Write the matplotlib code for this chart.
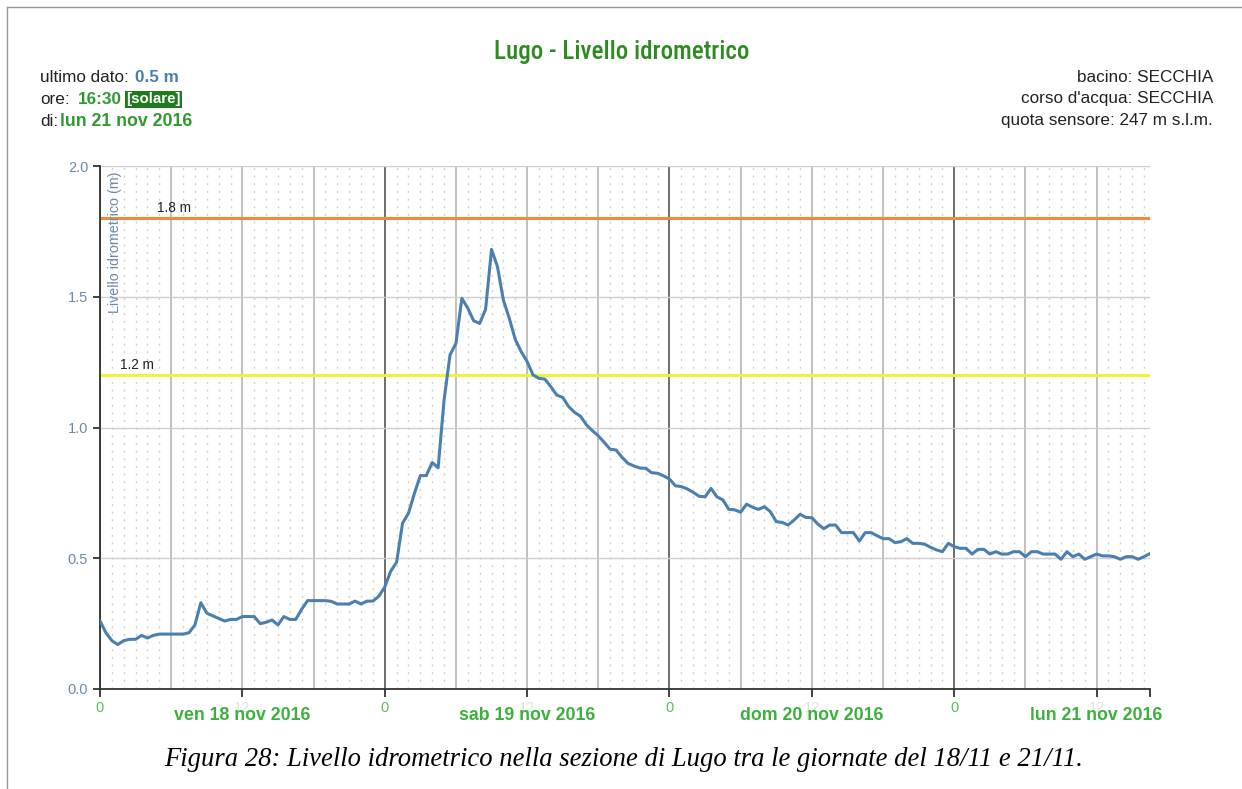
import matplotlib
matplotlib.use("Agg")
import matplotlib.pyplot as plt
import matplotlib.transforms as mtransforms
import pandas as pd

plt.rcParams["font.family"] = ["Liberation Sans", "DejaVu Sans"]

# livello idrometrico Lugo (m), un dato ogni 30 minuti dal 18/11/2016 00:00
level = [
    0.26, 0.215, 0.185, 0.17, 0.185, 0.19, 0.19, 0.205, 0.195, 0.205,
    0.21, 0.21, 0.21, 0.21, 0.21, 0.215, 0.245, 0.33, 0.29, 0.28,
    0.27, 0.26, 0.266, 0.266, 0.277, 0.277, 0.277, 0.25, 0.255, 0.264,
    0.245, 0.277, 0.266, 0.266, 0.305, 0.338, 0.338, 0.338, 0.338, 0.335,
    0.325, 0.325, 0.325, 0.336, 0.325, 0.336, 0.336, 0.355, 0.39, 0.45,
    0.485, 0.634, 0.672, 0.748, 0.816, 0.816, 0.866, 0.846, 1.105, 1.277,
    1.322, 1.494, 1.456, 1.408, 1.398, 1.452, 1.681, 1.615, 1.487, 1.417,
    1.337, 1.29, 1.252, 1.201, 1.188, 1.185, 1.156, 1.124, 1.115, 1.08,
    1.058, 1.043, 1.01, 0.988, 0.968, 0.943, 0.917, 0.914, 0.886, 0.863,
    0.853, 0.845, 0.844, 0.827, 0.825, 0.815, 0.803, 0.777, 0.774, 0.765,
    0.752, 0.737, 0.735, 0.767, 0.735, 0.723, 0.687, 0.685, 0.676, 0.707,
    0.695, 0.687, 0.697, 0.678, 0.64, 0.637, 0.627, 0.646, 0.668, 0.656,
    0.655, 0.631, 0.613, 0.627, 0.627, 0.598, 0.598, 0.598, 0.566, 0.598,
    0.598, 0.586, 0.575, 0.575, 0.56, 0.563, 0.575, 0.557, 0.557, 0.554,
    0.542, 0.532, 0.525, 0.557, 0.544, 0.538, 0.538, 0.516, 0.534, 0.534,
    0.516, 0.525, 0.516, 0.516, 0.525, 0.525, 0.506, 0.525, 0.525, 0.516,
    0.516, 0.516, 0.496, 0.525, 0.506, 0.516, 0.496, 0.506, 0.516, 0.509,
    0.509, 0.506, 0.496, 0.506, 0.506, 0.496, 0.506, 0.518,
]
start = "2016-11-18 00:00"
end = "2016-11-21 16:30"
thresholds = [1.8, 1.2]
threshold_labels = ["1.8 m", "1.2 m"]
threshold_colors = ["#f08a3c", "#f2f23a"]
day_labels = ["ven 18 nov 2016", "sab 19 nov 2016", "dom 20 nov 2016", "lun 21 nov 2016"]

times = pd.date_range(start, periods=len(level), freq="30min")

W, H = 1242, 789
fig = plt.figure(figsize=(W / 100, H / 100), dpi=100)
fig.patch.set_facecolor("white")

def px(x, y):
    return x / W, 1 - y / H

ax = fig.add_axes([100 / W, 1 - 689 / H, 1050 / W, 523 / H])
ax.set_xlim(pd.Timestamp(start), pd.Timestamp(end))
ax.set_ylim(0, 2.0)

green = "#2f9a2f"
blue = "#4a7fb0"
axisblue = "#6f8aa6"

# griglia
for t in pd.date_range(start, end, freq="1h"):
    if t.hour % 6 == 0:
        c = "#555555" if t.hour == 0 else "#b5b5b5"
        ax.axvline(t, color=c, lw=1.2, zorder=1)
    else:
        ax.axvline(t, color="#d0d0d0", lw=1.0, ls=(0, (1.5, 4)), zorder=1)
for yv in [0.5, 1.0, 1.5, 2.0]:
    ax.axhline(yv, color="#cfcfcf", lw=1.0, zorder=1)

# soglie
for yv, lab, col in zip(thresholds, threshold_labels, threshold_colors):
    ax.axhline(yv, color=col, lw=2.2, zorder=2)
tr = mtransforms.blended_transform_factory(ax.transAxes, ax.transData)
ax.text(57 / 1050, thresholds[0] + 0.012, threshold_labels[0], transform=tr,
        fontsize=9.8, color="#222222", va="bottom")
ax.text(20 / 1050, thresholds[1] + 0.012, threshold_labels[1], transform=tr,
        fontsize=9.8, color="#222222", va="bottom")

ax.plot(times, level, color=blue, lw=2.2, zorder=3, solid_joinstyle="round")

# assi
for s in ["top", "right"]:
    ax.spines[s].set_visible(False)
ax.spines["left"].set_color("#333333")
ax.spines["bottom"].set_color("#333333")
ax.spines["left"].set_linewidth(1.3)
ax.spines["bottom"].set_linewidth(1.3)
ax.set_yticks([0.0, 0.5, 1.0, 1.5, 2.0])
ax.set_yticklabels(["0.0", "0.5", "1.0", "1.5", "2.0"])
ax.tick_params(axis="y", colors="#333333", labelcolor=axisblue, labelsize=10.5, length=5, width=1.3)

xt = list(pd.date_range(start, end, freq="12h")) + [pd.Timestamp(end)]
ax.set_xticks(xt)
ax.set_xticklabels(["0" if t.hour == 0 and t.minute == 0 else ("12" if t.hour == 12 else "") for t in xt])
ax.tick_params(axis="x", colors="#333333", labelsize=10.5, length=6, width=1.3, pad=3)
for t, lab in zip(xt, ax.get_xticklabels()):
    lab.set_color("#5dbb5d" if t.hour == 0 else "#d3ead3")

trx = mtransforms.blended_transform_factory(ax.transData, ax.transAxes)
for d, lab in zip(pd.date_range(start, periods=4, freq="1D"), day_labels):
    ax.text(d + pd.Timedelta(hours=12), -0.051, lab, transform=trx, ha="center", va="center",
            fontsize=12.8, fontweight="bold", color="#3cb03c")

ax.text(15 / 1050, 0.99, "Livello idrometrico (m)", transform=ax.transAxes, rotation=90,
        ha="center", va="top", fontsize=10.3, color=axisblue)

# titolo e info
fig.text(*px(622, 52), "Lugo - Livello idrometrico", ha="center", va="center", fontsize=18,
         fontweight="medium", color="#2e8b22",
         family=["Liberation Sans Narrow", "DejaVu Sans Condensed", "Roboto Condensed", "Roboto"])

fs = 12.3
fsb = 12.8
fig.text(*px(40, 77), "ultimo dato:", fontsize=fs, color="#222222", va="center")
fig.text(*px(135, 77), "0.5 m", fontsize=fs, color=blue, fontweight="bold", va="center")
fig.text(*px(40, 99), "ore:", fontsize=fs, color="#222222", va="center")
fig.text(*px(78, 99), "16:30", fontsize=fs, color=green, fontweight="bold", va="center")
fig.text(*px(126, 99), "[solare]", fontsize=fs - 1.5, color="white", fontweight="bold", va="center",
         bbox=dict(boxstyle="square,pad=0.1", fc="#1f7a1f", ec="none"))
fig.text(*px(40, 121), "di:", fontsize=fs, color="#222222", va="center")
fig.text(*px(60, 121), "lun 21 nov 2016", fontsize=fsb, color=green, fontweight="bold", va="center")

fig.text(*px(1213, 77), "bacino: SECCHIA", fontsize=fs, color="#222222", ha="right", va="center")
fig.text(*px(1213, 99), "corso d'acqua: SECCHIA", fontsize=fs, color="#222222", ha="right", va="center")
fig.text(*px(1213, 121), "quota sensore: 247 m s.l.m.", fontsize=fs, color="#222222", ha="right", va="center")

# cornice del documento e didascalia
fig.add_artist(plt.Line2D([7 / W, 7 / W], [0, 1 - 7 / H], color="#999999", lw=1))
fig.add_artist(plt.Line2D([7 / W, 1], [1 - 7 / H, 1 - 7 / H], color="#999999", lw=1))
fig.text(*px(624, 760), "Figura 28: Livello idrometrico nella sezione di Lugo tra le giornate del 18/11 e 21/11.",
         ha="center", va="center", fontsize=19.2, style="italic", family="Liberation Serif", color="black")

fig.savefig("out.png", dpi=100)
